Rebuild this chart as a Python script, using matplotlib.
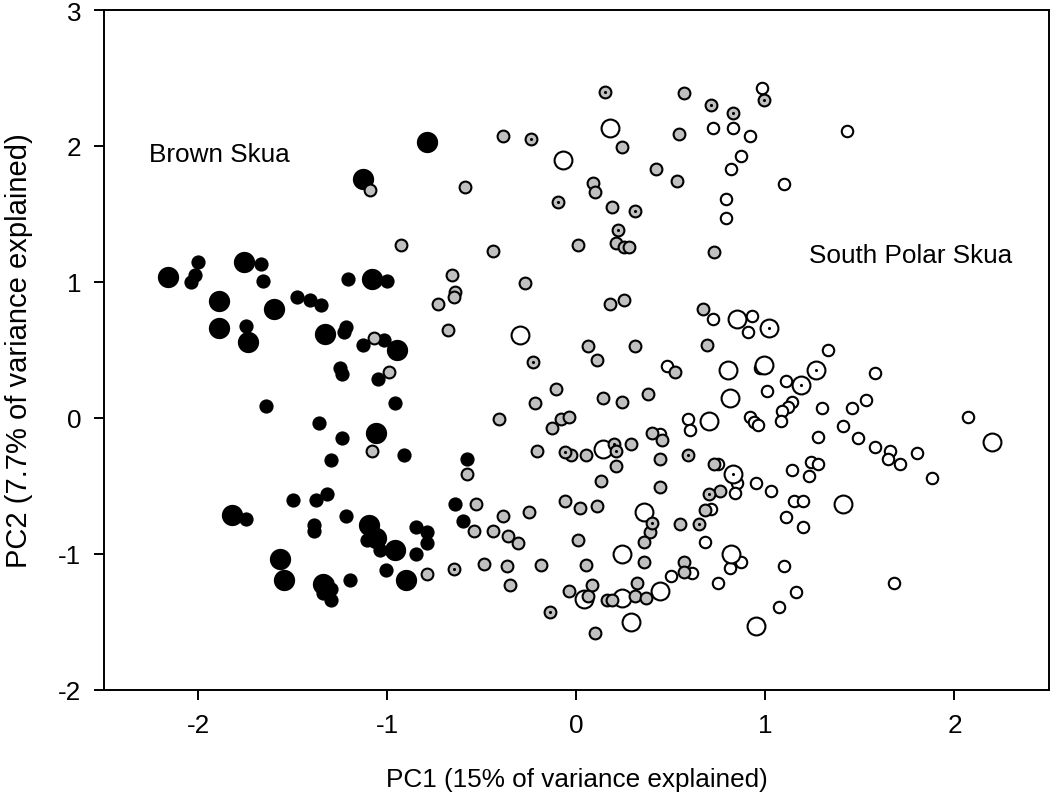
#!/usr/bin/env python3
"""
Skua PCA scatter: PC1 vs PC2, Brown Skua (black) vs South Polar Skua
(grey / open), recreated with matplotlib.
"""
import matplotlib
matplotlib.use("Agg")
import matplotlib.pyplot as plt

# --- data ------------------------------------------------------------------
brown_large_x = [-1.13, -0.79, -2.16, -1.76, -1.89, -1.60, -1.89, -1.74, -1.08, -1.33,
                 -0.95, -1.06, -1.82, -1.10, -1.06, -0.96, -0.90, -1.57, -1.55, -1.34]
brown_large_y = [1.76, 2.03, 1.04, 1.15, 0.86, 0.80, 0.66, 0.56, 1.02, 0.62,
                 0.50, -0.11, -0.71, -0.79, -0.88, -0.97, -1.19, -1.04, -1.19, -1.22]

brown_small_x = [-2.00, -2.02, -2.04, -1.67, -1.66, -1.75, -1.48, -1.41, -1.35, -1.21,
                 -1.00, -1.22, -1.23, -1.13, -1.02, -1.25, -1.24, -1.05, -0.96, -1.64,
                 -1.36, -1.24, -1.30, -0.91, -1.50, -1.38, -1.32, -1.75, -1.39, -1.39,
                 -1.22, -1.11, -1.04, -0.85, -0.85, -1.01, -1.20, -1.32, -1.30, -1.34,
                 -1.30, -0.58, -0.64, -0.60, -0.79, -0.79]
brown_small_y = [1.15, 1.05, 1.00, 1.13, 1.01, 0.68, 0.89, 0.87, 0.83, 1.02,
                 1.01, 0.67, 0.63, 0.54, 0.57, 0.37, 0.32, 0.29, 0.11, 0.09,
                 -0.04, -0.15, -0.31, -0.27, -0.60, -0.60, -0.56, -0.74, -0.79, -0.83,
                 -0.72, -0.90, -0.97, -0.80, -1.00, -1.12, -1.19, -1.21, -1.26, -1.29,
                 -1.34, -0.30, -0.63, -0.76, -0.84, -0.92]

grey_x = [-1.09, 0.57, -0.39, 0.24, 0.54, 0.42, 0.53, -0.59, 0.09, 0.10,
          0.19, 0.21, 0.01, -0.93, -1.07, -0.99, -1.08, -0.44, 0.25, 0.28,
          0.73, -0.66, -0.64, -0.65, -0.73, -0.27, -0.68, 0.18, 0.25, 0.67,
          0.06, 0.11, 0.31, 0.69, 0.52, -0.11, -0.22, 0.14, 0.24, 0.38,
          -0.41, -0.13, -0.08, -0.04, 0.40, 0.45, 0.29, -0.21, -0.03, 0.05,
          0.44, 0.21, 0.73, -0.58, 0.13, 0.44, -0.53, -0.06, 0.02, 0.11,
          -0.39, -0.25, -0.54, -0.44, -0.36, -0.31, 0.39, 0.36, 0.55, 0.76,
          0.68, 0.01, 0.36, -0.79, -0.49, -0.37, -0.19, -0.35, 0.05, -0.04,
          0.06, 0.08, 0.10, 0.16, 0.19, 0.32, 0.31, 0.37, 0.57, 0.57]
grey_y = [1.68, 2.39, 2.07, 1.99, 2.09, 1.83, 1.74, 1.70, 1.73, 1.66,
          1.55, 1.29, 1.27, 1.27, 0.59, 0.34, -0.24, 1.23, 1.26, 1.26,
          1.22, 1.05, 0.93, 0.89, 0.84, 0.99, 0.65, 0.84, 0.87, 0.80,
          0.53, 0.43, 0.53, 0.54, 0.34, 0.21, 0.11, 0.15, 0.12, 0.18,
          -0.01, -0.07, -0.01, 0.01, -0.11, -0.16, -0.19, -0.24, -0.27, -0.27,
          -0.30, -0.35, -0.34, -0.41, -0.46, -0.51, -0.63, -0.61, -0.66, -0.65,
          -0.72, -0.69, -0.83, -0.83, -0.87, -0.92, -0.84, -0.91, -0.78, -0.54,
          -0.68, -0.90, -1.06, -1.15, -1.07, -1.09, -1.08, -1.23, -1.08, -1.27,
          -1.31, -1.23, -1.58, -1.34, -1.34, -1.21, -1.31, -1.32, -1.06, -1.13]

grey_dot_x = [0.15, 0.71, -0.24, -0.10, 0.31, 0.22, 0.99, 0.83, -0.23, 0.20,
              0.21, -0.06, 0.59, 0.40, 0.65, 0.70, -0.65, -0.14]
grey_dot_y = [2.40, 2.30, 2.05, 1.59, 1.52, 1.38, 2.34, 2.24, 0.41, -0.19,
              -0.24, -0.25, -0.27, -0.77, -0.78, -0.56, -1.11, -1.43]

white_x = [0.72, 0.98, 0.83, 0.92, 1.43, 0.87, 0.82, 1.10, 0.79, 0.79,
           0.72, 0.48, 0.59, 0.60, 0.44, 0.75, 0.71, 0.68, 0.50, 0.61,
           0.75, 0.81, 0.87, 0.85, 0.84, 0.95, 1.03, 1.14, 1.24, 1.28,
           1.23, 1.15, 1.20, 1.11, 1.20, 1.88, 1.10, 1.16, 1.07, 1.68,
           0.93, 0.91, 1.33, 0.97, 1.11, 1.01, 1.58, 1.14, 1.12, 1.09,
           1.08, 0.92, 0.94, 0.96, 1.30, 1.46, 1.53, 1.41, 1.28, 1.49,
           1.58, 1.66, 1.65, 1.71, 1.80, 2.07]
white_y = [2.13, 2.43, 2.13, 2.07, 2.11, 1.93, 1.83, 1.72, 1.61, 1.47,
           0.73, 0.38, -0.01, -0.09, -0.12, -0.34, -0.67, -0.91, -1.16, -1.14,
           -1.21, -1.10, -1.06, -0.48, -0.55, -0.48, -0.54, -0.38, -0.32, -0.34,
           -0.43, -0.61, -0.61, -0.73, -0.80, -0.44, -1.09, -1.28, -1.39, -1.21,
           0.75, 0.63, 0.50, 0.37, 0.27, 0.20, 0.33, 0.12, 0.08, 0.05,
           -0.02, 0.01, -0.03, -0.05, 0.07, 0.07, 0.13, -0.06, -0.14, -0.15,
           -0.21, -0.24, -0.30, -0.34, -0.26, 0.01]

white_large_x = [0.18, -0.07, -0.30, 0.80, 0.81, 0.70, 0.14, 0.36, 0.24, 0.04,
                 0.24, 0.29, 0.44, 0.82, 0.95, 1.41, 0.85, 0.99, 2.20]
white_large_y = [2.13, 1.90, 0.61, 0.35, 0.15, -0.02, -0.23, -0.69, -1.00, -1.33,
                 -1.32, -1.50, -1.27, -1.00, -1.53, -0.63, 0.73, 0.39, -0.18]

white_large_dot_x = [0.83, 1.02, 1.27, 1.19]
white_large_dot_y = [-0.41, 0.66, 0.35, 0.24]

X_TICKS = [-2, -1, 0, 1, 2]
Y_TICKS = [-2, -1, 0, 1, 2, 3]

# --- style -----------------------------------------------------------------
GREY = "#c0c0c0"
FONT_SIZE = 18.8
YLABEL_SIZE = 21
EDGE_W = 1.5

plt.rcParams.update({
    "font.family": ["Liberation Sans", "DejaVu Sans"],
    "font.size": FONT_SIZE,
    "axes.linewidth": 1.4,
    "xtick.major.size": 7.5,
    "ytick.major.size": 7.5,
    "xtick.major.width": 1.4,
    "ytick.major.width": 1.4,
    "xtick.major.pad": 9,
    "ytick.major.pad": 9,
})


def main():
    fig = plt.figure(figsize=(10.5, 8.03), dpi=100)
    ax = fig.add_axes([0.099, 0.1395, 0.900, 0.8468])

    # brown skua: solid black, two sizes
    ax.scatter(brown_large_x, brown_large_y, s=235, color="black", linewidths=0, zorder=2)
    ax.scatter(brown_small_x, brown_small_y, s=105, color="black", linewidths=0, zorder=2)

    # south polar skua: open circles under grey ones
    ax.scatter(white_x, white_y, s=68, facecolor="white", edgecolor="black",
               linewidths=EDGE_W, zorder=3)
    ax.scatter(white_large_x, white_large_y, s=165, facecolor="white", edgecolor="black",
               linewidths=EDGE_W, zorder=3)
    ax.scatter(white_large_dot_x, white_large_dot_y, s=165, facecolor="white",
               edgecolor="black", linewidths=EDGE_W, zorder=3)

    ax.scatter(grey_x, grey_y, s=72, facecolor=GREY, edgecolor="black",
               linewidths=EDGE_W, zorder=4)
    ax.scatter(grey_dot_x, grey_dot_y, s=72, facecolor=GREY, edgecolor="black",
               linewidths=EDGE_W, zorder=4)

    # centre dots
    ax.scatter(grey_dot_x + white_large_dot_x, grey_dot_y + white_large_dot_y,
               s=5, color="black", linewidths=0, zorder=5)

    ax.text(-2.26, 1.94, "Brown Skua", ha="left", va="center", fontsize=FONT_SIZE)
    ax.text(1.23, 1.20, "South Polar Skua", ha="left", va="center", fontsize=FONT_SIZE)

    ax.set_xlim(-2.5, 2.5)
    ax.set_ylim(-2, 3)
    ax.set_xticks(X_TICKS)
    ax.set_yticks(Y_TICKS)
    ax.set_xticklabels([str(t) for t in X_TICKS])
    ax.set_yticklabels([str(t) for t in Y_TICKS])
    ax.tick_params(direction="out", top=False, right=False)

    ax.set_xlabel("PC1 (15% of variance explained)", labelpad=22)
    ax.set_ylabel("PC2 (7.7% of variance explained)", fontsize=YLABEL_SIZE)
    ax.yaxis.set_label_coords(-0.075, 0.5)

    fig.savefig("out.png", dpi=100, facecolor="white")
    plt.close(fig)


if __name__ == "__main__":
    main()
